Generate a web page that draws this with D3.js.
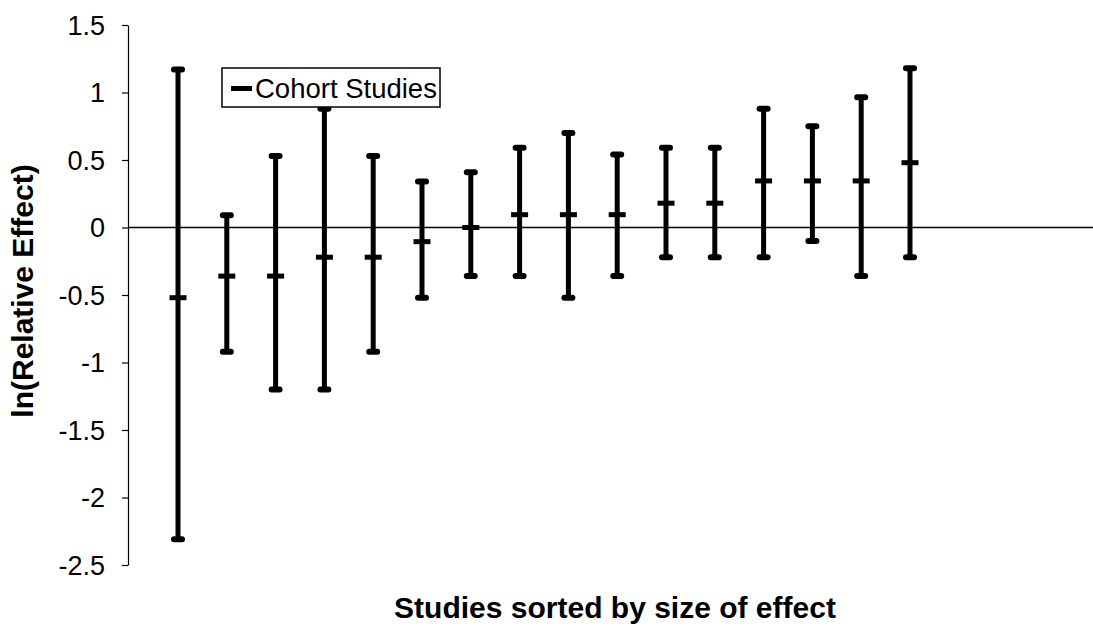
<!DOCTYPE html>
<html>
<head>
<meta charset="utf-8">
<script src="https://cdn.jsdelivr.net/npm/d3@7/dist/d3.min.js"></script>
<style>
  body { margin: 0; background: #fff; }
  svg { display: block; font-family: "Liberation Sans", Arial, sans-serif; }
</style>
</head>
<body>
<svg></svg>
<script>
// Size of the SVG
var width = 1093;
var height = 631;

// Studies, sorted by size of effect (ln of the relative effect)
const studies = [1, 2, 3, 4, 5, 6, 7, 8, 9, 10, 11, 12, 13, 14, 15, 16];
const effect  = [-0.52, -0.36, -0.36, -0.22, -0.22, -0.105, 0.0, 0.095, 0.095, 0.095, 0.18, 0.18, 0.345, 0.345, 0.345, 0.48];
const lower   = [-2.31, -0.92, -1.20, -1.20, -0.92, -0.52, -0.36, -0.36, -0.52, -0.36, -0.22, -0.22, -0.22, -0.10, -0.36, -0.22];
const upper   = [1.17, 0.09, 0.53, 0.88, 0.53, 0.34, 0.41, 0.59, 0.70, 0.54, 0.59, 0.59, 0.88, 0.75, 0.965, 1.18];
const yTicks  = [1.5, 1, 0.5, 0, -0.5, -1, -1.5, -2, -2.5];

const seriesName = "Cohort Studies";

// One row per study
let rows = studies.map((s, i) => {
    return { x: s, y: effect[i], lo: lower[i], hi: upper[i] };
});

var svg = d3.select("svg").attr("width", width).attr("height", height);

// Scales
let xScale = d3.scaleLinear().domain([1, 16]).range([178, 910]);
let yScale = d3.scaleLinear().domain([-2.5, 1.5]).range([565, 25]);

// Y axis (plain hyphen for negatives, like the original)
let y_Axis = d3.axisLeft(yScale)
    .tickValues(yTicks)
    .tickFormat(d => String(d))
    .tickSize(6)
    .tickSizeOuter(0)
    .tickPadding(17);

let yAxisG = svg.append("g").attr("transform", "translate(128,0)").call(y_Axis);
yAxisG.select(".domain").attr("stroke", "#000").attr("stroke-width", 1.2);
yAxisG.selectAll(".tick line").attr("stroke", "#000").attr("stroke-width", 1.2);
yAxisG.selectAll(".tick text")
    .style("font-size", "27px")
    .style("font-family", "Liberation Sans, Arial, sans-serif")
    .attr("fill", "#000")
    .attr("dy", "0.35em");

// Zero line across the plot
svg.append("line")
    .attr("x1", 128).attr("x2", width)
    .attr("y1", yScale(0)).attr("y2", yScale(0))
    .attr("stroke", "#000").attr("stroke-width", 1.5);

// Error bars
let bars = svg.append("g").selectAll("g.bar").data(rows).enter().append("g").attr("class", "bar");

bars.append("line")
    .attr("x1", d => xScale(d.x)).attr("x2", d => xScale(d.x))
    .attr("y1", d => yScale(d.lo)).attr("y2", d => yScale(d.hi))
    .attr("stroke", "#000").attr("stroke-width", 5);

// Caps on the ends
["lo", "hi"].forEach(k => {
    bars.append("line")
        .attr("x1", d => xScale(d.x) - 4).attr("x2", d => xScale(d.x) + 4)
        .attr("y1", d => yScale(d[k])).attr("y2", d => yScale(d[k]))
        .attr("stroke", "#000").attr("stroke-width", 6)
        .attr("stroke-linecap", "round");
});

// Point estimate marker
bars.append("rect")
    .attr("x", d => xScale(d.x) - 8.5)
    .attr("y", d => yScale(d.y) - 2.5)
    .attr("width", 17).attr("height", 5)
    .attr("fill", "#000");

// Legend
let legend = svg.append("g").attr("transform", "translate(222,68)");
legend.append("rect")
    .attr("width", 218).attr("height", 39)
    .attr("fill", "#fff").attr("stroke", "#000").attr("stroke-width", 1.5);
legend.append("rect")
    .attr("x", 9).attr("y", 18).attr("width", 21).attr("height", 5)
    .attr("fill", "#000");
legend.append("text")
    .attr("x", 33).attr("y", 30)
    .style("font-size", "27.5px")
    .text(seriesName);

// Y axis title
svg.append("text")
    .style("font-size", "30px")
    .style("font-weight", "bold")
    .attr("text-anchor", "middle")
    .attr("transform", "translate(33,291) rotate(-90)")
    .text("ln(Relative Effect)");

// X axis title
svg.append("text")
    .style("font-size", "30px")
    .style("font-weight", "bold")
    .attr("text-anchor", "middle")
    .attr("transform", "translate(615,618)")
    .text("Studies sorted by size of effect");
</script>
</body>
</html>
